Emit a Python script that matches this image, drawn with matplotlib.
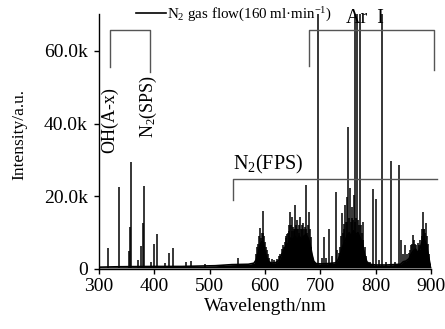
import numpy as np
import matplotlib
matplotlib.use("Agg")
import matplotlib.pyplot as plt
from matplotlib.ticker import FuncFormatter

plt.rcParams["font.family"] = ["Liberation Serif", "DejaVu Serif"]
plt.rcParams["mathtext.fontset"] = "custom"
plt.rcParams["mathtext.rm"] = "Liberation Serif"
plt.rcParams["mathtext.it"] = "Liberation Serif:italic"

# continuum + dense N2 band bodies
cont_nm = [300, 330, 360, 400, 450, 480, 510, 540, 570, 580, 584, 588, 591, 594,
           597, 600, 603, 607, 612, 620, 626, 630, 634, 638, 642, 646, 650, 654,
           658, 662, 666, 670, 674, 678, 682, 685, 688, 692, 700, 715, 728, 732,
           736, 740, 744, 748, 752, 756, 760, 764, 768, 772, 776, 780, 784, 790,
           800, 820, 845, 850, 855, 860, 864, 868, 872, 876, 880, 884, 888, 892,
           895, 898, 900]
cont_cts = [500, 600, 650, 700, 700, 800, 900, 1200, 1300, 1600, 2500, 4500, 6500, 7500,
            7000, 4500, 3000, 2000, 1600, 1800, 2500, 4000, 5000, 6500, 7000, 8500, 8000, 9000,
            8000, 9000, 8000, 9000, 9500, 8500, 6500, 4000, 2200, 1500, 1400, 1500, 1700, 2500,
            4000, 6000, 7500, 9000, 10000, 9000, 10500, 9500, 10000, 8500, 7000, 4000, 2000, 1300,
            1100, 1100, 1300, 2000, 2200, 2800, 4000, 5000, 5500, 4500, 5500, 7500, 8000, 6500,
            4000, 1500, 500]

# sharp emission lines (Ar I lines run off the top of the axes)
line_nm = [315.5, 336.5, 353.5, 356.0, 357.5, 371.0, 375.0, 379.0, 380.5, 394.0,
           399.5, 405.0, 420.0, 427.0, 434.0, 457.0, 466.0, 491.0, 552.0,
           584, 586, 588, 589, 591, 592.5, 594, 595.5, 596.5, 598, 599.5, 601, 603, 605, 607,
           612, 617, 621,
           626, 628, 630, 632, 634, 636, 637.5, 638.5, 640, 641, 643, 644, 645.5, 647.5,
           648.5, 649.5, 651, 652, 653, 654, 655, 656, 657, 658.5, 660, 661, 662, 663,
           664.5, 666, 667.5, 669, 670, 671, 672.5, 674, 675, 676.5, 678, 679.5, 681,
           682.5, 684,
           696.5, 703, 706.7, 711, 716.4, 721, 727.5, 731,
           734, 736, 737.5, 739, 740.5, 742, 743, 744.6, 746, 747.6, 749, 750.5, 752,
           753.6, 755, 756.5, 757.8, 759, 760.9, 762, 763.5, 765, 766.5, 768.7, 770,
           772.4, 774, 775.5, 776.6, 778, 780, 782,
           790, 795.8, 801.2, 806, 811.5, 818, 827,
           835, 843, 845.5, 849, 853, 857, 860, 862, 864, 865.5, 867, 869, 871, 873,
           876, 878, 881, 883, 884.5, 886, 887, 888, 889, 890.4, 892, 894, 896]
line_cts = [5700, 22600, 5000, 11500, 29500, 2500, 6300, 12700, 22800, 2000,
            6900, 9600, 1600, 4400, 5800, 2000, 2200, 1300, 2900,
            4000, 6000, 7000, 9000, 11200, 8500, 9900, 10000, 16000, 9000, 7500, 6000, 5200, 4000, 3000,
            2800, 2500, 2700,
            3500, 4000, 5500, 6600, 6000, 7500, 9000, 8400, 9500, 10000, 12000, 10500, 15800, 12000,
            10500, 14400, 11500, 11000, 10500, 17600, 11000, 12000, 11000, 13500, 11000, 10000, 12000, 14400,
            11000, 11000, 12000, 12600, 11000, 9000, 11500, 23100, 11000, 10000, 12000, 15600, 11000,
            8900, 6000,
            95000, 3000, 8900, 3000, 11000, 3500, 21200, 5200,
            4500, 6000, 9000, 15300, 10000, 11000, 12500, 17600, 13000, 19900, 13000, 39100, 14000,
            22200, 13000, 14000, 17100, 13500, 20400, 13000, 95000, 14000, 95000, 13500, 12000,
            95000, 12000, 10000, 13000, 8000, 6000, 3500,
            2000, 21900, 19200, 2500, 95000, 2000, 29700,
            2000, 28600, 8000, 4000, 6600, 4000, 4500, 5200, 6500, 7000, 9400, 8000, 7000, 6500,
            7100, 6500, 8000, 9000, 11000, 15800, 11000, 11000, 10000, 12600, 9000, 7000, 4000]

fig = plt.figure(figsize=(4.45, 3.29), dpi=100)
ax = fig.add_axes([0.2225, 0.1824, 0.746, 0.7736])

ax.fill_between(cont_nm, 300, cont_cts, color="black", lw=0)
ax.plot(cont_nm, cont_cts, color="black", lw=1.2,
        label=r"N$_2$ gas flow(160 ml·min$^{-1}$)")
ax.vlines(line_nm, 300, line_cts, color="black", lw=1.1)

ax.set_xlim(300, 900)
ax.set_ylim(0, 70000)
ax.set_xticks([300, 400, 500, 600, 700, 800, 900])
ax.set_yticks([0, 20000, 40000, 60000])
ax.yaxis.set_major_formatter(FuncFormatter(lambda v, p: "0" if v == 0 else f"{v/1000:.1f}k"))
ax.tick_params(direction="out", length=3.5, width=1, labelsize=14, pad=3)
ax.tick_params(axis="y", pad=4.5)
for s in ["top", "right"]:
    ax.spines[s].set_visible(False)
for s in ["left", "bottom"]:
    ax.spines[s].set_linewidth(1)

ax.set_xlabel("Wavelength/nm", fontsize=14, labelpad=2)
ax.set_ylabel("Intensity/a.u.", fontsize=12.5)
ax.yaxis.set_label_coords(-0.215, 0.53)

# band brackets
br = dict(color="#555555", lw=1, clip_on=False)
ax.plot([320, 320, 392, 392], [55600, 65700, 65700, 54200], **br)
ax.plot([679.5, 679.5, 906, 906], [55700, 65700, 65700, 54700], **br)
ax.plot([542, 542, 911], [19000, 24800, 24800], **br)

ax.text(320, 41000, "OH(A-x)", rotation=90, ha="center", va="center", fontsize=13)
ax.text(388.6, 44600, r"N$_2$(SPS)", rotation=90, ha="center", va="center", fontsize=13)
ax.text(606, 27500, r"N$_2$(FPS)", ha="center", va="baseline", fontsize=14.5)
ax.text(781, 69000, "Ar  I", ha="center", va="center", fontsize=14.5)

ax.legend(loc="upper left", bbox_to_anchor=(0.11, 1.035), frameon=False,
          borderpad=0, borderaxespad=0, handletextpad=0.1, handlelength=2,
          fontsize=10.8)

fig.savefig("out.png", dpi=100)
